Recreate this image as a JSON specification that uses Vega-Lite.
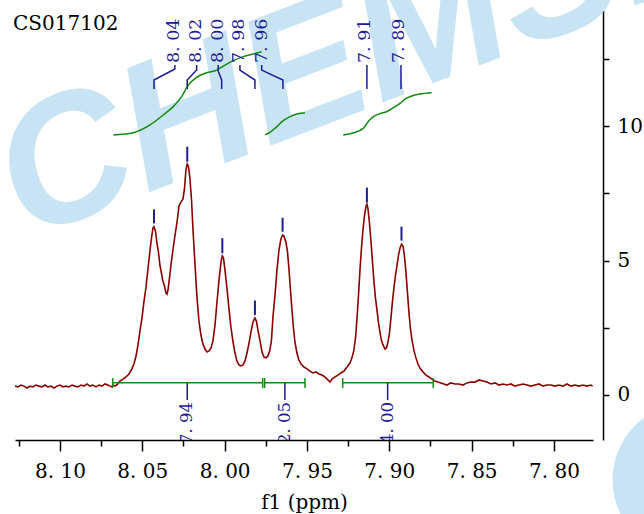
{
"$schema": "https://vega.github.io/schema/vega-lite/v6.json",
"width": 578, "height": 431, "autosize": "none",
"padding": {"left": 15, "top": 9, "right": 51, "bottom": 74},
"background": "white",
"config": {"view": {"stroke": null}, "font": "DejaVu Serif"},
"datasets": {
"spectrum": [
{"x":8.1273,"y":0.33},{"x":8.1255,"y":0.30},{"x":8.1237,"y":0.37},{"x":8.1219,"y":0.33},{"x":8.1200,"y":0.26},{"x":8.1182,"y":0.33},{"x":8.1164,"y":0.30},{"x":8.1146,"y":0.37},{"x":8.1128,"y":0.33},{"x":8.1109,"y":0.30},{"x":8.1091,"y":0.37},{"x":8.1073,"y":0.30},{"x":8.1055,"y":0.33},{"x":8.1036,"y":0.26},{"x":8.1018,"y":0.33},{"x":8.1000,"y":0.37},{"x":8.0982,"y":0.30},{"x":8.0964,"y":0.33},{"x":8.0945,"y":0.30},{"x":8.0927,"y":0.37},{"x":8.0909,"y":0.33},{"x":8.0891,"y":0.30},{"x":8.0872,"y":0.37},{"x":8.0854,"y":0.33},{"x":8.0836,"y":0.41},{"x":8.0818,"y":0.33},{"x":8.0800,"y":0.37},{"x":8.0781,"y":0.30},{"x":8.0763,"y":0.37},{"x":8.0745,"y":0.33},{"x":8.0727,"y":0.41},{"x":8.0709,"y":0.37},
{"x":8.0696,"y":0.33},{"x":8.0684,"y":0.30},{"x":8.0678,"y":0.37},{"x":8.0666,"y":0.33},{"x":8.0648,"y":0.41},{"x":8.0636,"y":0.52},{"x":8.0617,"y":0.59},{"x":8.0599,"y":0.67},{"x":8.0581,"y":0.78},{"x":8.0563,"y":0.97},{"x":8.0551,"y":1.15},{"x":8.0538,"y":1.45},{"x":8.0526,"y":1.86},{"x":8.0514,"y":2.38},{"x":8.0502,"y":2.86},{"x":8.0490,"y":3.46},{"x":8.0478,"y":3.98},{"x":8.0466,"y":4.65},{"x":8.0453,"y":5.39},{"x":8.0444,"y":5.84},{"x":8.0435,"y":6.21},{"x":8.0429,"y":6.25},{"x":8.0420,"y":6.10},{"x":8.0411,"y":5.65},{"x":8.0402,"y":5.32},{"x":8.0393,"y":4.83},{"x":8.0384,"y":4.54},{"x":8.0375,"y":4.24},{"x":8.0365,"y":4.05},{"x":8.0356,"y":3.79},{"x":8.0350,"y":3.75},{"x":8.0344,"y":3.90},{"x":8.0335,"y":4.35},{"x":8.0326,"y":4.83},{"x":8.0314,"y":5.39},{"x":8.0302,"y":5.91},{"x":8.0289,"y":6.43},{"x":8.0277,"y":7.03},{"x":8.0265,"y":7.17},{"x":8.0253,"y":7.29},{"x":8.0244,"y":7.66},{"x":8.0235,"y":8.36},{"x":8.0227,"y":8.59},{"x":8.0220,"y":8.51},{"x":8.0211,"y":8.07},{"x":8.0201,"y":7.25},{"x":8.0192,"y":6.13},{"x":8.0180,"y":4.87},{"x":8.0168,"y":3.64},{"x":8.0156,"y":2.75},{"x":8.0144,"y":2.23},{"x":8.0132,"y":1.90},{"x":8.0119,"y":1.71},{"x":8.0107,"y":1.60},{"x":8.0095,"y":1.64},{"x":8.0083,"y":1.75},{"x":8.0071,"y":2.01},{"x":8.0059,"y":2.57},{"x":8.0047,"y":3.42},{"x":8.0034,"y":4.28},{"x":8.0022,"y":4.94},{"x":8.0014,"y":5.17},{"x":8.0007,"y":5.09},{"x":7.9998,"y":4.65},{"x":7.9986,"y":3.98},{"x":7.9974,"y":3.23},{"x":7.9962,"y":2.53},{"x":7.9949,"y":1.97},{"x":7.9937,"y":1.56},{"x":7.9925,"y":1.26},{"x":7.9913,"y":1.12},{"x":7.9901,"y":1.08},{"x":7.9889,"y":1.12},{"x":7.9877,"y":1.26},{"x":7.9864,"y":1.56},{"x":7.9852,"y":1.93},{"x":7.9840,"y":2.34},{"x":7.9828,"y":2.71},{"x":7.9816,"y":2.86},{"x":7.9807,"y":2.75},{"x":7.9798,"y":2.42},{"x":7.9785,"y":2.01},{"x":7.9773,"y":1.60},{"x":7.9761,"y":1.41},{"x":7.9749,"y":1.38},{"x":7.9737,"y":1.45},{"x":7.9725,"y":1.67},{"x":7.9716,"y":2.01},{"x":7.9707,"y":2.86},{"x":7.9694,"y":3.72},{"x":7.9682,"y":4.65},{"x":7.9670,"y":5.39},{"x":7.9658,"y":5.80},{"x":7.9648,"y":5.95},{"x":7.9640,"y":5.91},{"x":7.9628,"y":5.69},{"x":7.9618,"y":5.32},{"x":7.9609,"y":4.65},{"x":7.9600,"y":3.90},{"x":7.9591,"y":3.16},{"x":7.9582,"y":2.49},{"x":7.9573,"y":1.97},{"x":7.9561,"y":1.56},{"x":7.9549,"y":1.30},{"x":7.9536,"y":1.15},{"x":7.9518,"y":1.04},{"x":7.9500,"y":0.97},{"x":7.9482,"y":0.89},{"x":7.9464,"y":0.82},{"x":7.9445,"y":0.86},{"x":7.9427,"y":0.78},{"x":7.9409,"y":0.74},{"x":7.9391,"y":0.67},{"x":7.9373,"y":0.56},{"x":7.9360,"y":0.48},{"x":7.9348,"y":0.59},{"x":7.9330,"y":0.67},{"x":7.9312,"y":0.74},{"x":7.9294,"y":0.82},{"x":7.9275,"y":0.89},{"x":7.9257,"y":1.04},{"x":7.9239,"y":1.19},{"x":7.9227,"y":1.38},{"x":7.9215,"y":1.67},{"x":7.9205,"y":2.12},{"x":7.9196,"y":2.86},{"x":7.9187,"y":3.72},{"x":7.9178,"y":4.65},{"x":7.9169,"y":5.46},{"x":7.9160,"y":6.13},{"x":7.9151,"y":6.65},{"x":7.9142,"y":6.99},{"x":7.9136,"y":7.10},{"x":7.9130,"y":6.95},{"x":7.9121,"y":6.43},{"x":7.9111,"y":5.69},{"x":7.9102,"y":4.94},{"x":7.9093,"y":4.20},{"x":7.9084,"y":3.61},{"x":7.9075,"y":3.16},{"x":7.9066,"y":2.71},{"x":7.9057,"y":2.34},{"x":7.9048,"y":2.04},{"x":7.9038,"y":1.86},{"x":7.9026,"y":1.71},{"x":7.9017,"y":1.75},{"x":7.9008,"y":1.97},{"x":7.8999,"y":2.30},{"x":7.8990,"y":2.86},{"x":7.8981,"y":3.46},{"x":7.8972,"y":3.98},{"x":7.8963,"y":4.42},{"x":7.8953,"y":4.83},{"x":7.8944,"y":5.20},{"x":7.8935,"y":5.46},{"x":7.8926,"y":5.61},{"x":7.8917,"y":5.54},{"x":7.8908,"y":5.17},{"x":7.8899,"y":4.57},{"x":7.8890,"y":3.83},{"x":7.8881,"y":3.09},{"x":7.8872,"y":2.49},{"x":7.8862,"y":2.04},{"x":7.8850,"y":1.64},{"x":7.8838,"y":1.38},{"x":7.8826,"y":1.15},{"x":7.8814,"y":1.00},{"x":7.8796,"y":0.86},{"x":7.8777,"y":0.74},{"x":7.8759,"y":0.67},{"x":7.8741,"y":0.59},{"x":7.8723,"y":0.52},{"x":7.8705,"y":0.48},{"x":7.8686,"y":0.45},{"x":7.8668,"y":0.41},
{"x":7.8650,"y":0.37},{"x":7.8626,"y":0.45},{"x":7.8601,"y":0.41},{"x":7.8577,"y":0.41},{"x":7.8553,"y":0.37},{"x":7.8528,"y":0.45},{"x":7.8504,"y":0.48},{"x":7.8480,"y":0.48},{"x":7.8456,"y":0.56},{"x":7.8431,"y":0.52},{"x":7.8407,"y":0.48},{"x":7.8383,"y":0.41},{"x":7.8358,"y":0.45},{"x":7.8334,"y":0.37},{"x":7.8310,"y":0.41},{"x":7.8286,"y":0.37},{"x":7.8261,"y":0.41},{"x":7.8237,"y":0.33},{"x":7.8213,"y":0.37},{"x":7.8188,"y":0.41},{"x":7.8164,"y":0.37},{"x":7.8140,"y":0.33},{"x":7.8115,"y":0.37},{"x":7.8091,"y":0.41},{"x":7.8067,"y":0.33},{"x":7.8043,"y":0.37},{"x":7.8018,"y":0.37},{"x":7.7994,"y":0.33},{"x":7.7970,"y":0.37},{"x":7.7945,"y":0.33},{"x":7.7921,"y":0.41},{"x":7.7897,"y":0.33},{"x":7.7873,"y":0.37},{"x":7.7848,"y":0.33},{"x":7.7824,"y":0.37},{"x":7.7800,"y":0.33},{"x":7.7775,"y":0.37},{"x":7.7765,"y":0.33}
],
"integrals": [
{"g":1,"o":1,"x":8.0676,"y":9.67},{"g":1,"o":2,"x":8.0555,"y":9.75},{"g":1,"o":3,"x":8.0453,"y":10.04},{"g":1,"o":4,"x":8.0373,"y":10.41},{"g":1,"o":5,"x":8.0312,"y":10.72},{"g":1,"o":6,"x":8.0261,"y":11.09},{"g":1,"o":7,"x":8.0221,"y":11.52},{"g":1,"o":8,"x":8.0170,"y":11.81},{"g":1,"o":9,"x":8.0109,"y":11.98},{"g":1,"o":10,"x":8.0048,"y":12.08},{"g":1,"o":11,"x":8.0008,"y":12.23},{"g":1,"o":12,"x":7.9948,"y":12.43},{"g":1,"o":13,"x":7.9887,"y":12.58},{"g":1,"o":14,"x":7.9826,"y":12.68},{"g":1,"o":15,"x":7.9775,"y":12.76},
{"g":2,"o":1,"x":7.9755,"y":9.67},{"g":2,"o":2,"x":7.9725,"y":9.76},{"g":2,"o":3,"x":7.9684,"y":9.97},{"g":2,"o":4,"x":7.9646,"y":10.19},{"g":2,"o":5,"x":7.9603,"y":10.35},{"g":2,"o":6,"x":7.9561,"y":10.45},{"g":2,"o":7,"x":7.9512,"y":10.48},
{"g":3,"o":1,"x":7.9280,"y":9.67},{"g":3,"o":2,"x":7.9221,"y":9.74},{"g":3,"o":3,"x":7.9158,"y":9.91},{"g":3,"o":4,"x":7.9130,"y":10.15},{"g":3,"o":5,"x":7.9097,"y":10.35},{"g":3,"o":6,"x":7.9057,"y":10.46},{"g":3,"o":7,"x":7.9016,"y":10.53},{"g":3,"o":8,"x":7.8978,"y":10.67},{"g":3,"o":9,"x":7.8935,"y":10.84},{"g":3,"o":10,"x":7.8905,"y":11.00},{"g":3,"o":11,"x":7.8875,"y":11.09},{"g":3,"o":12,"x":7.8814,"y":11.19},{"g":3,"o":13,"x":7.8743,"y":11.24}
],
"brackets": [
{"x":8.0680,"x2":7.9769,"y":0.457},{"x":7.9757,"x2":7.9512,"y":0.457},{"x":7.9283,"x2":7.8733,"y":0.457}
],
"bracketEnds": [
{"x":8.0680,"y":0.63,"y2":0.26},{"x":7.9769,"y":0.63,"y2":0.26},{"x":7.9757,"y":0.63,"y2":0.26},{"x":7.9512,"y":0.63,"y2":0.26},{"x":7.9283,"y":0.63,"y2":0.26},{"x":7.8733,"y":0.63,"y2":0.26}
],
"intLabels": [
{"x":8.0227,"y":0.45,"y2":-0.19,"ly":-0.26,"t":"7. 94"},{"x":7.9634,"y":0.45,"y2":-0.19,"ly":-0.26,"t":"2. 05"},{"x":7.9010,"y":0.45,"y2":-0.19,"ly":-0.26,"t":"4. 00"}
],
"peakTicks": [
{"x":8.0429,"y":6.90,"y2":6.38},{"x":8.0227,"y":9.23,"y2":8.67},{"x":8.0014,"y":5.83,"y2":5.27},{"x":7.9816,"y":3.51,"y2":2.97},{"x":7.9648,"y":6.59,"y2":6.07},{"x":7.9136,"y":7.71,"y2":7.16},{"x":7.8926,"y":6.26,"y2":5.74}
],
"leaders": [
{"g":1,"o":1,"x":8.0302,"y":12.27},{"g":1,"o":2,"x":8.0302,"y":12.12},{"g":1,"o":3,"x":8.0429,"y":11.71},{"g":1,"o":4,"x":8.0429,"y":11.38},
{"g":2,"o":1,"x":8.0170,"y":12.27},{"g":2,"o":2,"x":8.0170,"y":12.08},{"g":2,"o":3,"x":8.0227,"y":11.71},{"g":2,"o":4,"x":8.0227,"y":11.38},
{"g":3,"o":1,"x":8.0039,"y":12.27},{"g":3,"o":2,"x":8.0039,"y":12.04},{"g":3,"o":3,"x":8.0018,"y":11.71},{"g":3,"o":4,"x":8.0018,"y":11.38},
{"g":4,"o":1,"x":7.9907,"y":12.27},{"g":4,"o":2,"x":7.9907,"y":12.08},{"g":4,"o":3,"x":7.9816,"y":11.71},{"g":4,"o":4,"x":7.9816,"y":11.38},
{"g":5,"o":1,"x":7.9775,"y":12.27},{"g":5,"o":2,"x":7.9775,"y":12.08},{"g":5,"o":3,"x":7.9646,"y":11.71},{"g":5,"o":4,"x":7.9646,"y":11.38},
{"g":6,"o":1,"x":7.9136,"y":12.27},{"g":6,"o":2,"x":7.9136,"y":11.38},
{"g":7,"o":1,"x":7.8929,"y":12.27},{"g":7,"o":2,"x":7.8929,"y":11.38}
],
"peakLabels": [
{"x":8.0308,"y":12.34,"t":"8. 04"},{"x":8.0174,"y":12.34,"t":"8. 02"},{"x":8.0041,"y":12.34,"t":"8. 00"},{"x":7.9910,"y":12.34,"t":"7. 98"},{"x":7.9773,"y":12.34,"t":"7. 96"},{"x":7.9148,"y":12.34,"t":"7. 91"},{"x":7.8941,"y":12.34,"t":"7. 89"}
]
},
"encoding": {
"x": {"field": "x", "type": "quantitative",
 "scale": {"domain": [7.7763, 8.1273], "reverse": true, "nice": false, "zero": false},
 "axis": {"title": "f1 (ppm)", "values": [8.125, 8.1, 8.075, 8.05, 8.025, 8.0, 7.975, 7.95, 7.925, 7.9, 7.875, 7.85, 7.825, 7.8],
  "labelExpr": "abs(datum.value*20 - round(datum.value*20)) < 0.001 ? replace(format(datum.value, '.2f'), '.', '. ') : ''",
  "tickSize": {"condition": {"test": "abs(datum.value*20 - round(datum.value*20)) < 0.001", "value": 11}, "value": 6},
  "labelFont": "DejaVu Serif", "labelFontSize": 20, "labelColor": "black", "labelPadding": 10, "labelFlush": false, "labelOverlap": false,
  "titleFont": "DejaVu Serif", "titleFontSize": 20, "titleFontWeight": "normal", "titleColor": "black", "titlePadding": 11,
  "domainColor": "black", "domainWidth": 1.5, "tickColor": "black", "tickWidth": 1.5, "grid": false}},
"y": {"field": "y", "type": "quantitative",
 "scale": {"domain": [-1.673, 14.35], "nice": false, "zero": false},
 "axis": {"orient": "right", "offset": 10, "title": null, "values": [0, 2.5, 5, 7.5, 10, 12.5],
  "labelExpr": "datum.value % 5 === 0 ? format(datum.value, 'd') : ''",
  "tickSize": 6, "labelFont": "DejaVu Serif", "labelFontSize": 20, "labelColor": "black", "labelPadding": 8, "labelFlush": false, "labelOverlap": false,
  "domainColor": "black", "domainWidth": 1.5, "tickColor": "black", "tickWidth": 1.5, "grid": false}}
},
"layer": [
{"data": {"values": [{"x": 8.1213, "y": 5.76, "t": "CHEMSRC"}]},
 "mark": {"type": "text", "font": "Liberation Sans", "fontSize": 180, "fontWeight": "bold", "fontStyle": "italic", "angle": 339, "align": "left", "baseline": "alphabetic", "color": "#c8e3f3"},
 "encoding": {"text": {"field": "t"}}},
{"data": {"values": [{"x": 7.7174, "y": -3.16}]},
 "mark": {"type": "point", "filled": true, "shape": "circle", "size": 24000, "color": "#c8e3f3", "opacity": 1, "strokeWidth": 0}},
{"data": {"name": "spectrum"},
 "mark": {"type": "line", "color": "#8b0000", "strokeWidth": 1.6, "clip": true}},
{"data": {"name": "brackets"},
 "mark": {"type": "rule", "color": "#108a10", "strokeWidth": 1.5},
 "encoding": {"x2": {"field": "x2"}}},
{"data": {"name": "bracketEnds"},
 "mark": {"type": "rule", "color": "#108a10", "strokeWidth": 1.5},
 "encoding": {"y2": {"field": "y2"}}},
{"data": {"name": "integrals"},
 "mark": {"type": "line", "color": "#108a10", "strokeWidth": 1.5, "interpolate": "monotone"},
 "encoding": {"detail": {"field": "g"}, "order": {"field": "o"}}},
{"data": {"name": "intLabels"},
 "mark": {"type": "rule", "color": "#1c1c96", "strokeWidth": 1.5},
 "encoding": {"y2": {"field": "y2"}}},
{"data": {"name": "intLabels"},
 "mark": {"type": "text", "font": "DejaVu Serif", "fontSize": 16.5, "angle": 270, "align": "right", "baseline": "middle", "color": "#1c1c96", "clip": true},
 "encoding": {"y": {"field": "ly", "type": "quantitative"}, "text": {"field": "t"}}},
{"data": {"name": "peakTicks"},
 "mark": {"type": "rule", "color": "#1c1c96", "strokeWidth": 2},
 "encoding": {"y2": {"field": "y2"}}},
{"data": {"name": "leaders"},
 "mark": {"type": "line", "color": "#1c1c96", "strokeWidth": 1.5},
 "encoding": {"detail": {"field": "g"}, "order": {"field": "o"}}},
{"data": {"name": "peakLabels"},
 "mark": {"type": "text", "font": "DejaVu Serif", "fontSize": 17.5, "angle": 270, "align": "left", "baseline": "middle", "color": "#1c1c96"},
 "encoding": {"text": {"field": "t"}}},
{"data": {"values": [{"x": 8.1285, "y": 13.57, "t": "CS017102"}]},
 "mark": {"type": "text", "font": "DejaVu Serif", "fontSize": 20, "align": "left", "baseline": "alphabetic", "color": "black"},
 "encoding": {"text": {"field": "t"}}}
]
}
